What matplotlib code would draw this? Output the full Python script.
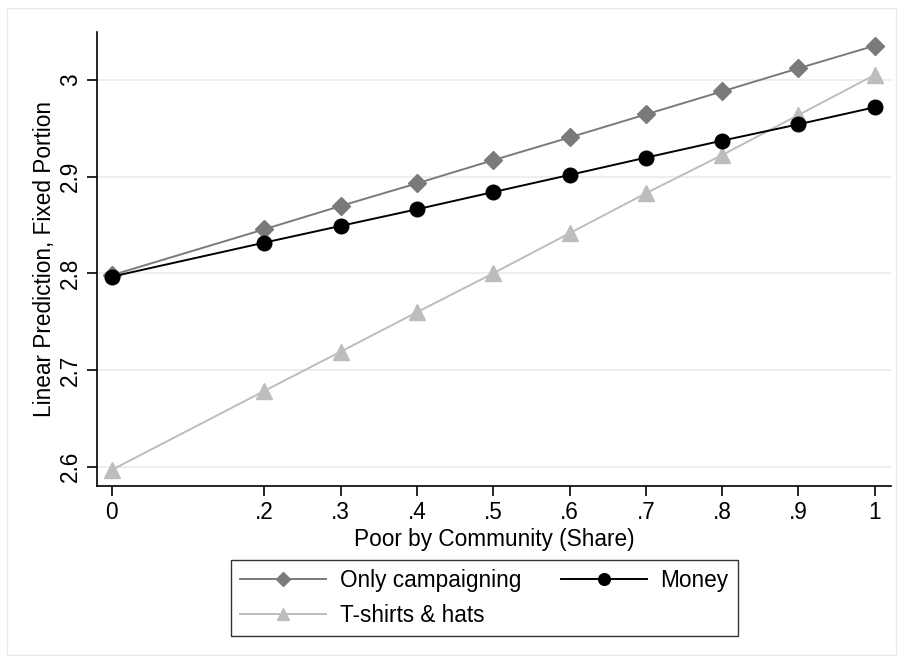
import matplotlib
matplotlib.use("Agg")
import matplotlib.pyplot as plt
from matplotlib.patches import Rectangle

plt.rcParams['font.family'] = ['Liberation Sans', 'DejaVu Sans']

x = [0, 0.2, 0.3, 0.4, 0.5, 0.6, 0.7, 0.8, 0.9, 1.0]
only_campaigning = [2.798, 2.8455, 2.8696, 2.893, 2.917, 2.9405, 2.9643, 2.9881, 3.0120, 3.0354]
money = [2.7965, 2.8317, 2.849, 2.8662, 2.8840, 2.9017, 2.9196, 2.9372, 2.9541, 2.9717]
tshirts = [2.5966, 2.6783, 2.7189, 2.7597, 2.800, 2.8414, 2.8827, 2.9223, 2.9637, 3.0052]

xticks = [0, 0.2, 0.3, 0.4, 0.5, 0.6, 0.7, 0.8, 0.9, 1.0]
xticklabels = ['0', '.2', '.3', '.4', '.5', '.6', '.7', '.8', '.9', '1']
yticks = [2.6, 2.7, 2.8, 2.9, 3.0]
yticklabels = ['2.6', '2.7', '2.8', '2.9', '3']

fig = plt.figure(figsize=(9.03, 6.62), dpi=100)
ax = fig.add_axes([0.1074, 0.2659, 0.879, 0.6858])

ax.plot(x, only_campaigning, color='#7a7a7a', lw=1.4, marker='D', ms=9.5,
        label='Only campaigning', zorder=3)
ax.plot(x, tshirts, color='#bdbdbd', lw=1.4, marker='^', ms=11,
        label='T-shirts & hats', zorder=3)
ax.plot(x, money, color='black', lw=1.4, marker='o', ms=10.5,
        label='Money', zorder=4)

ax.set_xlim(-0.0193, 1.021)
ax.set_ylim(2.58, 3.0496)
ax.set_xticks(xticks)
ax.set_xticklabels(xticklabels)
ax.set_yticks(yticks)
ax.set_yticklabels(yticklabels, rotation=90, va='center')
ax.tick_params(axis='both', labelsize=16.3, length=7, width=1.2, direction='out')
ax.tick_params(axis='y', pad=4)
ax.tick_params(axis='x', pad=4)

for s in ['top', 'right']:
    ax.spines[s].set_visible(False)
for s in ['left', 'bottom']:
    ax.spines[s].set_linewidth(1.2)

ax.grid(axis='y', color='#e8eef0', lw=1.3)
ax.set_axisbelow(True)

ax.set_xlabel('Poor by Community (Share)', fontsize=16.3, labelpad=3)
ax.set_ylabel('Linear Prediction, Fixed Portion', fontsize=16.3, labelpad=2)

leg = fig.legend(loc='center', bbox_to_anchor=(0.5363, 0.0967), ncol=2,
                 fontsize=16.3, frameon=True, fancybox=False, edgecolor='black',
                 handlelength=3.8, handletextpad=0.6, columnspacing=1.75,
                 labelspacing=0.5, markerscale=0.8, borderpad=0.4)
leg.get_frame().set_linewidth(1.0)

fig.patches.append(Rectangle((0.008, 0.01), 0.984, 0.978, transform=fig.transFigure,
                             fill=False, edgecolor='#e6ebed', lw=1.0))

fig.savefig('out.png', dpi=100)
